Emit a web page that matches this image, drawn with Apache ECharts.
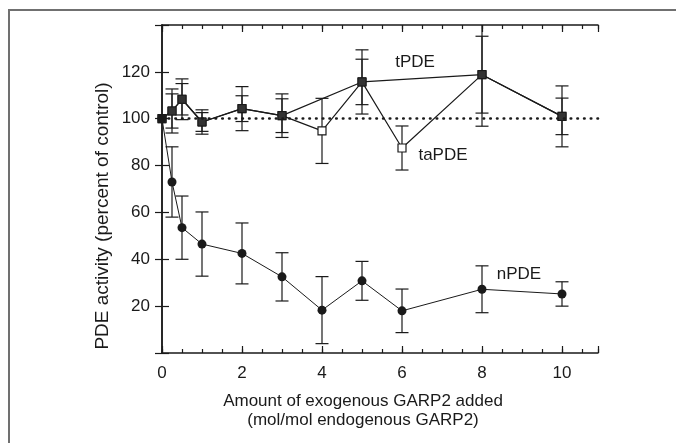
<!DOCTYPE html>
<html>
<head>
<meta charset="utf-8">
<script src="https://cdn.jsdelivr.net/npm/echarts@6/dist/echarts.min.js"></script>
<style>
  html, body { margin: 0; padding: 0; background: #fff; }
  #chart { width: 676px; height: 443px; }
</style>
</head>
<body>
<div id="chart"></div>
<script>
// GARP2 added (mol/mol)
var nDoses = [0, 0.25, 0.5, 1, 2, 3, 4, 5, 6, 8, 10];
var nPDE = [100, 73, 53.5, 46.5, 42.5, 32.5, 18.3, 30.8, 18, 27.2, 25.2];
var nPDEErr = [0, 15, 13.5, 13.7, 13, 10.3, 14.3, 8.3, 9.3, 10, 5.2];

var tDoses = [0, 0.25, 0.5, 1, 2, 3, 5, 8, 10];
var tPDE = [100, 103.3, 108.3, 98.6, 104.3, 101.3, 115.7, 118.8, 101];
var tPDEErr = [0, 9.4, 8.7, 5.2, 9.4, 9.3, 13.7, 16.4, 13];

var taDoses = [0, 0.25, 0.5, 1, 2, 3, 4, 5, 6, 8, 10];
var taPDE = [100, 103.3, 108.3, 98.6, 104.3, 101.3, 94.8, 115.7, 87.5, 118.8, 101];
var taPDEErr = [0, 7.3, 6.7, 4, 5.5, 7.2, 13.9, 9.7, 9.4, 22, 7.8];

var xTicks = [0, 2, 4, 6, 8, 10];
var yTicks = [20, 40, 60, 80, 100, 120];

var FONT = '"Liberation Sans", Arial, sans-serif';
var INK = '#1a1a1a';

function pairs(xs, ys) {
    return xs.map(function (x, i) { return [x, ys[i]]; });
}
function bars(xs, ys, es) {
    var out = [];
    for (var i = 0; i < xs.length; i++) {
        if (es[i] > 0) out.push([xs[i], ys[i] - es[i], ys[i] + es[i]]);
    }
    return out;
}

function errorBar(params, api) {
    var x = api.value(0);
    var lo = api.coord([x, api.value(1)]);
    var hi = api.coord([x, api.value(2)]);
    var w = 6.5;
    var st = { stroke: INK, lineWidth: 1.2 };
    return {
        type: 'group',
        children: [
            { type: 'line', shape: { x1: hi[0], y1: hi[1], x2: lo[0], y2: lo[1] }, style: st },
            { type: 'line', shape: { x1: hi[0] - w, y1: hi[1], x2: hi[0] + w, y2: hi[1] }, style: st },
            { type: 'line', shape: { x1: lo[0] - w, y1: lo[1], x2: lo[0] + w, y2: lo[1] }, style: st }
        ]
    };
}

function barSeries(data) {
    return {
        type: 'custom',
        renderItem: errorBar,
        data: data,
        encode: { x: 0, y: [1, 2] },
        clip: true,
        silent: true,
        z: 2
    };
}

var tickLabel = { fontFamily: FONT, fontSize: 17, color: INK };

var chart = echarts.init(document.getElementById('chart'));
chart.setOption({
    animation: false,
    backgroundColor: '#fff',
    grid: { left: 162, top: 25, right: 78, bottom: 90 },
    xAxis: [
        {   // main bottom axis, long ticks + labels
            type: 'value', position: 'bottom', min: 0, max: 10.9, interval: 2,
            axisLine: { show: true, lineStyle: { color: INK, width: 1.5 } },
            axisTick: { show: true, inside: true, length: 7, lineStyle: { color: INK, width: 1.2 } },
            axisLabel: Object.assign({
                margin: 12,
                formatter: function (v) { return xTicks.indexOf(v) >= 0 ? String(v) : ''; }
            }, tickLabel),
            splitLine: { show: false }
        },
        {   // short ticks every 0.5
            type: 'value', position: 'bottom', min: 0, max: 10.9, interval: 0.5,
            axisLine: { show: false },
            axisTick: { show: true, inside: true, length: 4, lineStyle: { color: INK, width: 1.2 } },
            axisLabel: { show: false }, splitLine: { show: false }
        },
        {
            type: 'value', position: 'top', min: 0, max: 10.9, interval: 2,
            axisLine: { show: true, lineStyle: { color: INK, width: 1.5 } },
            axisTick: { show: true, inside: true, length: 7, lineStyle: { color: INK, width: 1.2 } },
            axisLabel: { show: false }, splitLine: { show: false }
        },
        {
            type: 'value', position: 'top', min: 0, max: 10.9, interval: 0.5,
            axisLine: { show: false },
            axisTick: { show: true, inside: true, length: 4, lineStyle: { color: INK, width: 1.2 } },
            axisLabel: { show: false }, splitLine: { show: false }
        }
    ],
    yAxis: [
        {
            type: 'value', position: 'left', min: 0, max: 140, interval: 20,
            axisLine: { show: true, lineStyle: { color: INK, width: 1.5 } },
            axisTick: { show: true, inside: true, length: 7, lineStyle: { color: INK, width: 1.2 } },
            axisLabel: Object.assign({
                margin: 12,
                formatter: function (v) { return yTicks.indexOf(v) >= 0 ? String(v) : ''; }
            }, tickLabel),
            splitLine: { show: false }
        },
        {
            type: 'value', position: 'right', min: 0, max: 140, interval: 20,
            axisLine: { show: true, lineStyle: { color: INK, width: 1.5 } },
            axisTick: { show: true, inside: true, length: 7, lineStyle: { color: INK, width: 1.2 } },
            axisLabel: { show: false }, splitLine: { show: false }
        }
    ],
    series: [
        barSeries(bars(nDoses, nPDE, nPDEErr)),
        barSeries(bars(tDoses, tPDE, tPDEErr)),
        barSeries(bars(taDoses, taPDE, taPDEErr)),
        {
            name: 'taPDE', type: 'line', data: pairs(taDoses, taPDE),
            symbol: 'rect', symbolSize: 8,
            itemStyle: { color: '#fff', borderColor: INK, borderWidth: 1.2 },
            lineStyle: { color: INK, width: 1.2 },
            z: 3,
            markLine: {
                silent: true, symbol: 'none', label: { show: false },
                lineStyle: { color: INK, width: 2.6, type: [0.5, 6.2], cap: 'round' },
                data: [{ yAxis: 100 }]
            }
        },
        {
            name: 'tPDE', type: 'line', data: pairs(tDoses, tPDE),
            symbol: 'rect', symbolSize: 8,
            itemStyle: { color: '#333', borderColor: INK, borderWidth: 1 },
            lineStyle: { color: INK, width: 1.2 },
            z: 4
        },
        {
            name: 'nPDE', type: 'line', data: pairs(nDoses, nPDE),
            symbol: 'circle', symbolSize: 9,
            itemStyle: { color: INK },
            lineStyle: { color: INK, width: 1 },
            z: 5
        }
    ],
    graphic: [
        {
            type: 'rect', silent: true, z: 0,
            shape: { x: 9, y: 10, width: 720, height: 460 },
            style: { fill: 'none', stroke: '#707070', lineWidth: 2 }
        },
        {
            type: 'text', x: 363, y: 411, silent: true,
            style: {
                text: 'Amount of exogenous GARP2 added\n(mol/mol endogenous GARP2)',
                font: '17px ' + FONT, fill: INK, align: 'center', verticalAlign: 'middle', lineHeight: 19
            }
        },
        {
            type: 'text', x: 103, y: 216, rotation: Math.PI / 2, silent: true,
            style: {
                text: 'PDE activity (percent of control)',
                font: '19px ' + FONT, fill: INK, align: 'center', verticalAlign: 'middle'
            }
        },
        {
            type: 'text', x: 415, y: 62, silent: true,
            style: { text: 'tPDE', font: '17px ' + FONT, fill: INK, align: 'center', verticalAlign: 'middle' }
        },
        {
            type: 'text', x: 443, y: 155, silent: true,
            style: { text: 'taPDE', font: '17px ' + FONT, fill: INK, align: 'center', verticalAlign: 'middle' }
        },
        {
            type: 'text', x: 519, y: 274, silent: true,
            style: { text: 'nPDE', font: '17px ' + FONT, fill: INK, align: 'center', verticalAlign: 'middle' }
        }
    ]
});
</script>
</body>
</html>
